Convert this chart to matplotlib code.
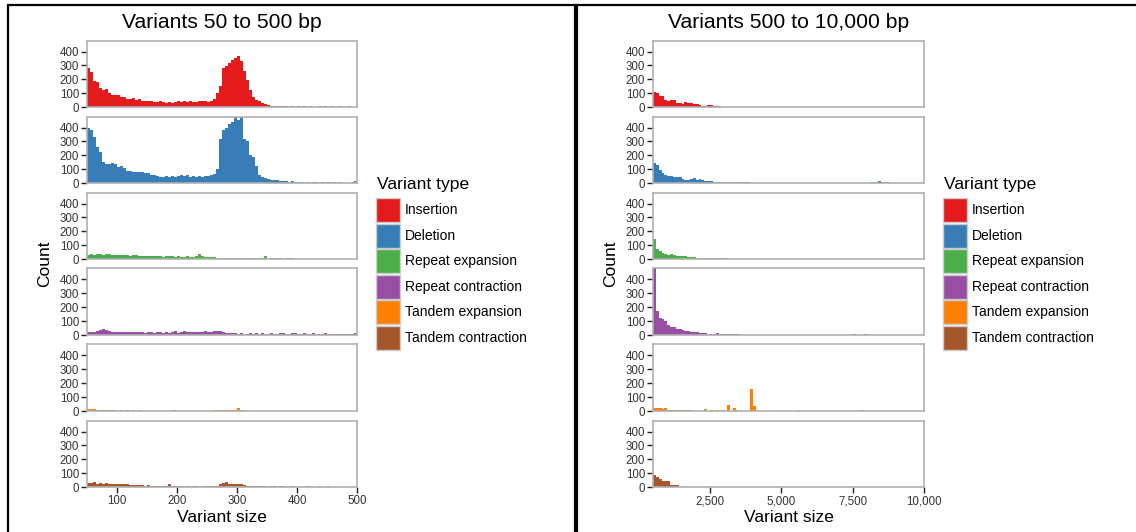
import matplotlib
matplotlib.use('Agg')
import matplotlib.pyplot as plt
import numpy as np
from matplotlib.patches import Rectangle

plt.rcParams['font.family'] = ['Liberation Sans', 'DejaVu Sans']

# ---------------- data ----------------
variant_types = ["Insertion", "Deletion", "Repeat expansion", "Repeat contraction",
                 "Tandem expansion", "Tandem contraction"]
colors = ["#E41A1C", "#377EB8", "#4DAF4A", "#984EA3", "#FF7F00", "#A65628"]

# Left panel: 50..500 bp, bin width 5 (90 bins)
left_range = (50, 500, 5)
red_l = [282, 255, 185, 180, 140, 125, 130, 100, 90, 90,
         85, 75, 70, 60, 55, 65, 50, 55, 45, 45,
         45, 40, 35, 35, 40, 38, 30, 35, 30, 35,
         40, 35, 40, 35, 40, 38, 35, 40, 45, 40,
         35, 45, 55, 100, 150, 280, 295, 320, 340, 355,
         365, 330, 260, 195, 120, 75, 50, 40, 30, 25,
         12, 10, 5, 6, 5, 4, 6, 3, 5, 3,
         4, 3, 5, 2, 4, 3, 2, 4, 3, 5,
         3, 4, 2, 3, 5, 3, 2, 4, 3, 2]
blue_l = [400, 385, 330, 258, 222, 150, 137, 140, 145, 135,
          113, 120, 105, 90, 90, 80, 78, 80, 77, 75,
          70, 60, 55, 50, 45, 45, 48, 45, 50, 45,
          50, 55, 48, 55, 45, 50, 45, 50, 45, 48,
          50, 55, 65, 100, 320, 380, 400, 425, 440, 490,
          455, 490, 320, 300, 200, 190, 120, 55, 40, 35,
          30, 25, 25, 20, 15, 15, 12, 10, 12, 8,
          5, 6, 3, 5, 3, 5, 4, 3, 5, 3,
          4, 3, 5, 3, 4, 3, 2, 3, 8, 15]
green_l = [30, 35, 32, 35, 33, 30, 35, 33, 30, 28,
           30, 32, 28, 30, 25, 30, 28, 25, 22, 25,
           20, 22, 25, 20, 22, 18, 20, 22, 20, 18,
           20, 18, 15, 20, 18, 15, 20, 35, 20, 18,
           15, 18, 12, 8, 6, 8, 5, 8, 10, 8,
           10, 8, 10, 8, 10, 8, 6, 8, 10, 20,
           2, 5, 6, 5, 6, 3, 5, 6, 5, 2,
           2, 2, 2, 2, 2, 2, 2, 2, 2, 2,
           2, 2, 2, 2, 2, 2, 2, 2, 2, 2]
purple_l = [25, 22, 20, 30, 35, 40, 38, 30, 25, 20,
            22, 25, 20, 18, 25, 20, 22, 18, 25, 15,
            20, 22, 15, 18, 25, 15, 20, 15, 25, 30,
            15, 20, 30, 25, 20, 18, 22, 25, 20, 28,
            22, 25, 28, 30, 30, 25, 15, 12, 15, 12,
            10, 12, 10, 8, 12, 10, 15, 10, 12, 8,
            10, 12, 8, 10, 12, 15, 10, 8, 15, 12,
            8, 10, 15, 8, 10, 12, 8, 10, 8, 12,
            8, 5, 8, 10, 5, 8, 6, 8, 10, 12]
orange_l = [15, 15, 12, 8, 6, 6, 6, 4, 6, 5,
            3, 5, 0, 5, 0, 4, 0, 4, 3, 0,
            0, 0, 0, 0, 3, 0, 0, 0, 5, 5,
            0, 0, 0, 0, 0, 0, 0, 0, 0, 0,
            3, 0, 5, 6, 8, 8, 6, 8, 8, 10,
            20, 8, 6, 3, 3, 0, 3, 0, 0, 0,
            0, 0, 0, 0, 0, 0, 0, 0, 0, 0,
            0, 0, 0, 0, 0, 0, 0, 0, 0, 0,
            0, 0, 0, 0, 0, 0, 0, 0, 0, 0]
brown_l = [30, 30, 35, 25, 28, 25, 28, 25, 22, 25,
           25, 20, 25, 22, 18, 15, 15, 12, 15, 10,
           12, 10, 8, 10, 10, 8, 8, 25, 8, 8,
           8, 5, 0, 5, 3, 5, 5, 0, 5, 8,
           5, 5, 10, 8, 25, 30, 35, 25, 20, 20,
           25, 20, 15, 10, 10, 8, 6, 8, 5, 8,
           0, 5, 5, 0, 5, 8, 3, 0, 5, 0,
           3, 3, 0, 5, 0, 0, 0, 4, 0, 0,
           4, 0, 3, 0, 0, 0, 0, 0, 0, 0]

# Right panel: 500..10000 bp, bin width 100 (95 bins)
right_range = (500, 10000, 100)
red_r = [110, 100, 80, 80, 50, 45, 50, 50, 30, 30,
         25, 35, 30, 30, 25, 20, 15, 10, 10, 12,
         15, 10, 8, 5, 3, 3, 3, 3, 2, 0,
         3, 0, 0, 0, 2, 0, 0, 0, 0, 0,
         0, 0, 0, 0, 0, 0, 0, 0, 0, 0,
         0, 0, 0, 0, 0, 0, 0, 0, 0, 0,
         0, 0, 0, 0, 0, 0, 0, 0, 0, 0,
         0, 0, 0, 0, 0, 3, 0, 3, 0, 3,
         0, 0, 0, 0, 0, 0, 0, 0, 0, 0,
         0, 0, 0, 0, 0]
blue_r = [145, 130, 95, 70, 60, 50, 50, 40, 40, 45,
          30, 25, 25, 30, 35, 25, 30, 20, 15, 15,
          12, 10, 10, 8, 8, 8, 8, 6, 5, 5,
          5, 5, 5, 5, 0, 3, 0, 0, 0, 0,
          0, 0, 0, 0, 0, 0, 0, 0, 0, 0,
          0, 0, 0, 0, 0, 0, 0, 0, 0, 0,
          0, 0, 0, 0, 0, 0, 0, 0, 3, 3,
          0, 0, 0, 0, 0, 0, 5, 5, 8, 15,
          10, 8, 5, 0, 0, 0, 0, 0, 0, 0,
          0, 0, 0, 0, 0]
green_r = [145, 70, 55, 40, 35, 30, 35, 30, 25, 25,
           25, 20, 15, 12, 12, 10, 10, 8, 8, 6,
           8, 6, 6, 5, 6, 4, 3, 3, 2, 0,
           2, 0, 0, 0, 2, 0, 0, 0, 0, 0,
           0, 2, 0, 0, 0, 0, 0, 0, 0, 2,
           0, 0, 0, 0, 0, 0, 0, 0, 0, 0,
           0, 0, 0, 0, 0, 2, 0, 0, 0, 0,
           0, 0, 0, 0, 0, 0, 0, 0, 0, 0,
           0, 0, 0, 0, 0, 0, 0, 0, 0, 0,
           0, 0, 0, 0, 0]
purple_r = [480, 170, 120, 115, 100, 70, 60, 55, 45, 40,
            35, 30, 30, 25, 20, 20, 15, 15, 12, 10,
            10, 10, 12, 10, 10, 8, 8, 8, 5, 5,
            2, 0, 0, 2, 0, 0, 0, 0, 0, 0,
            2, 0, 0, 0, 0, 0, 0, 2, 0, 0,
            0, 0, 0, 0, 0, 0, 0, 0, 0, 0,
            0, 0, 0, 0, 0, 2, 2, 0, 0, 0,
            8, 0, 0, 0, 8, 3, 0, 3, 0, 0,
            0, 0, 0, 0, 0, 0, 0, 0, 0, 0,
            0, 0, 0, 0, 0]
orange_r = [20, 25, 25, 15, 20, 10, 10, 10, 10, 10,
            0, 10, 10, 10, 0, 0, 0, 0, 12, 0,
            5, 0, 8, 0, 5, 0, 40, 0, 25, 10,
            0, 0, 0, 0, 160, 35, 0, 0, 0, 0,
            0, 0, 0, 0, 0, 0, 0, 0, 0, 0,
            0, 5, 0, 0, 0, 0, 0, 0, 0, 0,
            0, 0, 0, 0, 0, 0, 0, 0, 3, 0,
            0, 0, 0, 10, 0, 0, 0, 0, 0, 0,
            0, 0, 0, 0, 0, 0, 0, 0, 0, 0,
            0, 0, 0, 0, 0]
brown_r = [90, 72, 55, 42, 40, 40, 12, 12, 12, 0,
           0, 0, 0, 0, 0, 0, 0, 0, 0, 0,
           0, 0, 0, 0, 0, 0, 0, 0, 0, 0,
           0, 0, 0, 0, 0, 0, 0, 0, 0, 0,
           0, 0, 0, 0, 0, 0, 0, 0, 0, 0,
           0, 0, 0, 0, 0, 0, 0, 0, 0, 0,
           0, 0, 0, 0, 0, 0, 0, 0, 0, 0,
           0, 0, 0, 0, 0, 0, 0, 0, 0, 0,
           0, 0, 0, 0, 0, 0, 0, 0, 0, 0,
           0, 0, 0, 0, 0]

left_series = [red_l, blue_l, green_l, purple_l, orange_l, brown_l]
right_series = [red_r, blue_r, green_r, purple_r, orange_r, brown_r]
y_ticks = [0, 100, 200, 300, 400]
left_xticks = [100, 200, 300, 400, 500]
left_xlabels = ["100", "200", "300", "400", "500"]
right_xticks = [2500, 5000, 7500, 10000]
right_xlabels = ["2,500", "5,000", "7,500", "10,000"]
titles = ["Variants 50 to 500 bp", "Variants 500 to 10,000 bp"]

# ---------------- layout ----------------
W, H = 1136, 532
fig = plt.figure(figsize=(W / 100, H / 100), dpi=100)


def fx(x):
    return x / W


def fy(y):
    return 1 - y / H


def ax_px(x0, y0, x1, y1):
    return fig.add_axes([fx(x0), fy(y1), (x1 - x0) / W, (y1 - y0) / H])


rows = [(40.5, 107), (116.5, 183), (192.5, 259), (268, 335), (344, 411), (420.5, 487)]
panels = [
    dict(x0=87, x1=357, rng=left_range, series=left_series,
         xt=left_xticks, xl=left_xlabels, title=titles[0], leg_x=376),
    dict(x0=653, x1=924, rng=right_range, series=right_series,
         xt=right_xticks, xl=right_xlabels, title=titles[1], leg_x=943),
]

tick_color = "#333333"
border_color = "#b0b0b0"

for p in panels:
    lo, hi, bw = p["rng"]
    edges = np.arange(lo, hi, bw)
    for i, (top, bot) in enumerate(rows):
        ax = ax_px(p["x0"], top, p["x1"], bot)
        ax.bar(edges, p["series"][i], width=bw, align="edge",
               color=colors[i], linewidth=0)
        ax.set_xlim(lo, hi)
        ax.set_ylim(0, 480)
        ax.set_yticks(y_ticks)
        ax.set_yticklabels([str(v) for v in y_ticks])
        for s in ax.spines.values():
            s.set_color(border_color)
            s.set_linewidth(1.2)
        ax.tick_params(axis="y", length=4.5, width=1, color="#222222",
                       labelsize=8.3, labelcolor=tick_color, pad=1.2)
        if i == len(rows) - 1:
            ax.set_xticks(p["xt"])
            ax.set_xticklabels(p["xl"])
            ax.tick_params(axis="x", length=4, width=1, color="#222222",
                           labelsize=8.3, labelcolor=tick_color, pad=2)
        else:
            ax.set_xticks([])
    cx = (p["x0"] + p["x1"]) / 2
    fig.text(fx(cx), fy(22), p["title"], ha="center", va="center", fontsize=15.2)
    fig.text(fx(cx), fy(517), "Variant size", ha="center", va="center", fontsize=12.5)
    fig.text(fx(p["x0"] - 42), fy(264), "Count", ha="center", va="center",
             rotation=90, fontsize=12.5)

    # legend
    lx = p["leg_x"]
    fig.text(fx(lx + 1), fy(185), "Variant type", ha="left", va="center", fontsize=12.6)
    for k, (name, c) in enumerate(zip(variant_types, colors)):
        ky = 198 + k * 25.5
        fig.patches.append(Rectangle((fx(lx), fy(ky + 24)), 24 / W, 24 / H,
                                     transform=fig.transFigure, facecolor=c,
                                     edgecolor="#cccccc", linewidth=1))
        fig.text(fx(lx + 29), fy(ky + 12), name, ha="left", va="center", fontsize=10)

# outer black frames
fig.patches.append(Rectangle((fx(8), fy(540)), (575 - 8) / W, (540 - 5) / H,
                             transform=fig.transFigure, fill=False,
                             edgecolor="black", linewidth=1.6))
fig.patches.append(Rectangle((fx(577), fy(540)), (1140 - 577) / W, (540 - 5) / H,
                             transform=fig.transFigure, fill=False,
                             edgecolor="black", linewidth=1.6))

fig.savefig("out.png", dpi=100)
